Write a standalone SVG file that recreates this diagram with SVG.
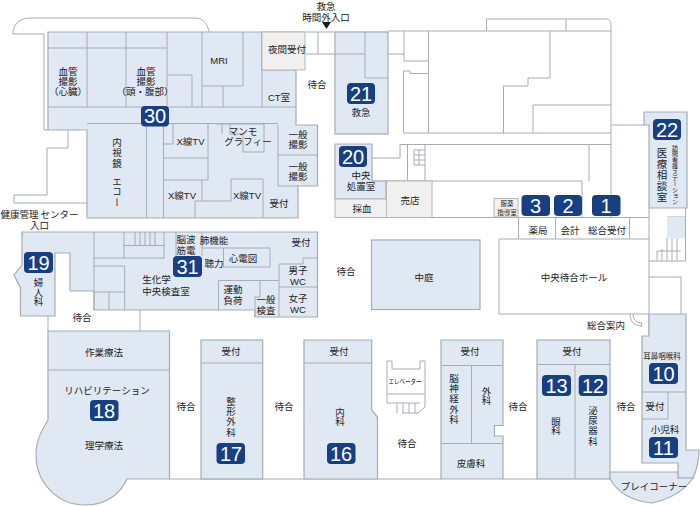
<svg xmlns="http://www.w3.org/2000/svg" width="700" height="506" viewBox="0 0 700 506">
<style>
text{font-family:"Noto Sans CJK JP","Noto Sans",sans-serif;font-size:9.5px;fill:#222;text-anchor:middle;dominant-baseline:central}
.lat{font-family:"Liberation Sans",sans-serif}
.v{writing-mode:vertical-rl;letter-spacing:.8px}
.room{fill:#dfe8f3;stroke:#a6adb5;stroke-width:1.200}
.gray{fill:#f1f0ee;stroke:#b4b6b8;stroke-width:1}
.wall{fill:none;stroke:#a6adb5;stroke-width:1}
.line{fill:none;stroke:#a6adb5;stroke-width:1}
.b{fill:#173f82}
.n{font-family:"Liberation Sans",sans-serif;font-size:20px;fill:#fff}
</style>
<g id="connectors" class="wall">
<path d="M13,34C13,25 19,18 30,18H195C204,18 208,25 209,32"/>
<path d="M13,34H44V130H48M68,130V148H47V195H14V203H87"/>
<path d="M262,32H335M305,54H335M318,32V54"/>
<path d="M388,31H611M486.500,31V19H606Q611,19 611,24V217M566,19V31"/>
<path d="M388,54H404M404,31V61H428.500M428.500,31V133M403.500,133V71H410V73.500H428.500M403.500,133H611"/>
<path d="M503.500,133V86H528V78H550V31M533,133V105H611M611,125H644"/>
<path d="M372,158H400V144.500H611M407.500,144.500V181M425,144.500V181M372,181H582M589,144.500V181M582,181V217.500"/>
<path d="M414,150H425M414,155H425M414,160H425M414,165H425M414,150V165M419,150V165"/>
<path d="M432,217.500H649M518.500,217.500V239M555.500,217.500V239M629.500,217.500V239M499,239H649M499,239V314H649M649,208V336"/>
<path d="M649,261H685.500V208M649,277H681V314"/>
<path d="M657,251H681M657,251V261M662,249V261M667,238V261M672,238V261M677,238V261M667,217H685"/>
<path d="M140,310V331M48,315V331"/>
<path d="M169,479H441M503,479H537"/>
<path d="M630,314C630,322 635,326 642,326M633,314C633,320 637,323 642,323L641,327"/>
</g>
<g id="elevator" class="wall">
<path d="M387,361V403M387,394H425M425,361V407L418,413H402M387,361H392V369H420V361H425"/>
<path d="M387,403H397V413M397,403H420M403,403V413M409,403V413M415,403V413"/>
<text x="405" y="381" textLength="33" lengthAdjust="spacingAndGlyphs" style="font-size:7px;stroke:none">エレベーター</text>
</g>
<g id="dept30">
<path class="room" d="M48,32H262V70H296V125H317.500V186H298V218H87V130H48Z"/>
<path class="line" d="M48,48H167M87,32V107M126,32V107M167,32V107M48,107H296M167,75H192V107M202,32V107M202,86H243V32M223,86V107M262,32V107"/>
<path class="line" d="M87,123.500H278M146.500,123V218M163.500,123V218M163.500,158H208M208,124V180M163.500,180H208M163.500,144H173V124M202,180V201M195,218V201H231V179H263V218"/>
<path class="line" d="M222,124V134M230,124V134H243V152H264V124M216,124H264M278,155H317.500M278,125V186H298"/>
<path class="gray" d="M262,32H305V70H262Z"/>
<text x="68" y="71">血管<tspan x="68" dy="10">撮影</tspan><tspan x="68" dy="10">（心臓）</tspan></text>
<text x="146" y="71">血管<tspan x="146" dy="10">撮影</tspan><tspan x="145" dy="10">（頭・腹部）</tspan></text>
<text class="lat" x="219" y="60">MRI</text>
<text x="287" y="49">夜間受付</text>
<text x="279" y="97"><tspan class="lat">CT</tspan>室</text>
<text class="v" x="117" y="153">内視鏡</text><text class="v" x="117" y="192">エコー</text>
<text x="190.500" y="141"><tspan class="lat">X</tspan>線<tspan class="lat">TV</tspan></text>
<text x="182" y="195"><tspan class="lat">X</tspan>線<tspan class="lat">TV</tspan></text>
<text x="247" y="195"><tspan class="lat">X</tspan>線<tspan class="lat">TV</tspan></text>
<text x="243" y="131">マンモ<tspan x="248" dy="10">グラフィー</tspan></text>
<text x="298" y="134">一般<tspan x="298" dy="10">撮影</tspan></text>
<text x="298" y="166">一般<tspan x="298" dy="10">撮影</tspan></text>
<text x="279" y="203">受付</text>
<rect class="b" x="141" y="106" width="28" height="20.500" rx="4"/><text class="n" x="155" y="116">30</text>
</g>
<g id="entrance">
<path fill="#1c1c1c" d="M322,22H331L326.500,29Z"/>
<text x="326" y="6">救急<tspan x="326" dy="11">時間外入口</tspan></text>
<text x="39.500" y="214">健康管理 センター<tspan x="39.500" dy="11">入口</tspan></text>
<text x="317" y="84">待合</text>
</g>
<g id="dept21">
<rect class="room" x="335" y="32" width="53" height="102"/>
<path class="line" d="M335,54H365M365,32V78H388"/>
<rect class="b" x="347" y="83" width="28" height="21" rx="4"/><text class="n" x="361" y="93.500">21</text>
<text x="361" y="112">救急</text>
</g>
<g id="dept20">
<path class="room" d="M335,144H372V181H386V199H335Z"/>
<rect class="gray" x="335" y="199" width="51.500" height="18.500"/>
<rect class="gray" x="386.500" y="181" width="45.500" height="36.500"/>
<rect class="b" x="339" y="146" width="28" height="21" rx="4"/><text class="n" x="353" y="156.500">20</text>
<text x="361" y="175">中央<tspan x="361" dy="11">処置室</tspan></text>
<text x="362" y="208">採血</text><text x="410" y="200">売店</text>
</g>
<g id="reception">
<rect class="gray" x="494" y="198.500" width="24" height="18.500"/>
<text x="507" y="203" style="font-size:6.500px">服薬<tspan x="507" dy="9">指導室</tspan></text>
<rect class="b" x="521.500" y="195" width="28.500" height="21" rx="4"/><text class="n" x="535.500" y="205.500">3</text>
<rect class="b" x="554" y="195" width="28" height="21" rx="4"/><text class="n" x="568" y="205.500">2</text>
<rect class="b" x="592" y="195" width="28.500" height="21" rx="4"/><text class="n" x="606" y="205.500">1</text>
<text x="538" y="230">薬局</text><text x="570" y="230">会計</text><text x="607" y="230">総合受付</text>
</g>
<g id="dept22">
<path class="room" d="M644,112H687V208H649V125H644Z"/>
<rect x="667" y="217" width="18" height="21" fill="#dfe8f3"/>
<rect class="b" x="653" y="119" width="28" height="21" rx="4"/><text class="n" x="667" y="129.500">22</text>
<text class="v" x="662" y="175" style="font-size:10.500px;letter-spacing:.5px">医療相談室</text>
<text class="v" x="675" y="175" style="font-size:6px;letter-spacing:0">訪問看護ステーション</text>
</g>
<g id="courtyard">
<rect class="room" x="371.500" y="240" width="108.500" height="69.500"/>
<text x="424" y="277">中庭</text>
</g>
<g id="hall">
<text x="574" y="277">中央待合ホール</text>
<text x="606" y="325">総合案内</text>
<text x="346" y="271">待合</text>
</g>
<g id="dept31">
<path class="room" d="M22,232H317.500V317H255V310H94V291H70V253H55V316H20.500V288L14,275L22,265Z"/>
<path class="line" d="M94,232V310M94,258H164V232M124,232V258M124,245.500H164M135,232V245.500M140,232V245.500M145,232V245.500M150,232V245.500M155,232V245.500"/>
<path class="line" d="M94,266H124.700V310M94,292H124.700M109,292V310"/>
<path class="line" d="M176,232V256M202,232V256M202,248H223.500M223.500,248H270V267H223.500V248M218.500,310V280.500H279M260,280.500V297H255V317M279,264V317M279,264H303V258H317.500M279,287H317.500"/>
<rect class="b" x="173" y="256" width="29" height="21" rx="4"/><text class="n" x="187.500" y="266.500">31</text>
<text x="186" y="239">脳波<tspan x="186" dy="11">筋電</tspan></text><text x="214" y="240">肺機能</text><text x="214" y="263">聴力</text>
<text x="243" y="258">心電図</text><text x="301" y="242">受付</text>
<text x="156.500" y="279">生化学<tspan x="166" dy="12">中央検査室</tspan></text>
<text x="233" y="289">運動<tspan x="233" dy="11">負荷</tspan></text>
<text x="266" y="299">一般<tspan x="266" dy="11">検査</tspan></text>
<text x="298" y="270">男子<tspan class="lat" x="298" dy="11">WC</tspan></text>
<text x="298" y="298">女子<tspan class="lat" x="298" dy="11">WC</tspan></text>
</g>
<g id="dept19">
<rect class="b" x="24" y="252" width="29" height="21" rx="4"/><text class="n" x="38.500" y="262.500">19</text>
<text class="v" x="38.500" y="292" style="letter-spacing:0">婦人科</text>
<text x="82" y="317">待合</text>
</g>
<g id="dept18">
<path class="room" d="M48,331H169.500V479H127C120,495 105,505 85,505C57,505 36,482 36,455C36,440 42,430 48,420Z"/>
<path class="line" d="M48,370H169.500"/>
<text x="104" y="352">作業療法</text><text x="107" y="390">リハビリテーション</text>
<rect class="b" x="90" y="400" width="28.500" height="21" rx="4"/><text class="n" x="104" y="410.500">18</text>
<text x="104" y="445">理学療法</text><text x="186" y="406">待合</text>
</g>
<g id="dept17">
<rect class="room" x="201" y="340" width="61.700" height="139"/>
<path class="line" d="M201,363H262.700"/>
<text x="231" y="351">受付</text><text class="v" x="231" y="417">整形外科</text>
<rect class="b" x="216.500" y="443" width="28.500" height="21" rx="4"/><text class="n" x="231" y="453.500">17</text>
<text x="284" y="406">待合</text>
</g>
<g id="dept16">
<path class="room" d="M304,340H371.700V410L377.500,417V479H304Z"/>
<path class="line" d="M304,363H371.700"/>
<text x="339" y="351">受付</text><text class="v" x="340" y="417" style="letter-spacing:0">内科</text>
<rect class="b" x="327" y="443" width="28.500" height="21" rx="4"/><text class="n" x="341" y="453.500">16</text>
<text x="407" y="443">待合</text>
</g>
<g id="dept14">
<path class="room" d="M441,340H503V425.500H494.500V436H503V479H441Z"/>
<path class="line" d="M441,365.500H503M471.500,365.500V443.500M441,443.500H503"/>
<text x="470" y="351">受付</text><text class="v" x="454" y="399">脳神経外科</text>
<text class="v" x="486.500" y="396" style="letter-spacing:0">外科</text><text x="471" y="463">皮膚科</text>
<text x="518" y="406">待合</text>
</g>
<g id="dept12-13">
<rect class="room" x="537" y="340" width="73" height="139"/>
<path class="line" d="M537,364.500H610M575,364.500V479"/>
<text x="572" y="351">受付</text>
<rect class="b" x="542" y="375" width="29" height="21" rx="4"/><text class="n" x="556.500" y="385.500">13</text>
<rect class="b" x="578.700" y="375" width="28.500" height="21" rx="4"/><text class="n" x="593" y="385.500">12</text>
<text class="v" x="556" y="426" style="letter-spacing:0">眼科</text><text class="v" x="593" y="426">泌尿器科</text>
<text x="626" y="406">待合</text>
</g>
<g id="dept10-11">
<path class="room" d="M642,336H649V314H686V450H699Q699,465 693,478H678V463H642Z"/>
<path class="line" d="M642,392H686M668,392V419M642,419H668"/>
<text x="662" y="355" style="font-size:7.500px">耳鼻咽喉科</text>
<rect class="b" x="649" y="363" width="29" height="21" rx="4"/><text class="n" x="663.500" y="373.500">10</text>
<text x="655" y="406">受付</text><text x="665" y="429">小児科</text>
<rect class="b" x="649" y="437" width="29" height="21" rx="4"/><text class="n" x="663.500" y="447.500">11</text>
</g>
<g id="playcorner">
<path class="room" d="M610,472H678V478H693Q680,497 652,503Q622,500 610,479Z"/>
<text x="654" y="486">プレイコーナー</text>
</g>
</svg>
